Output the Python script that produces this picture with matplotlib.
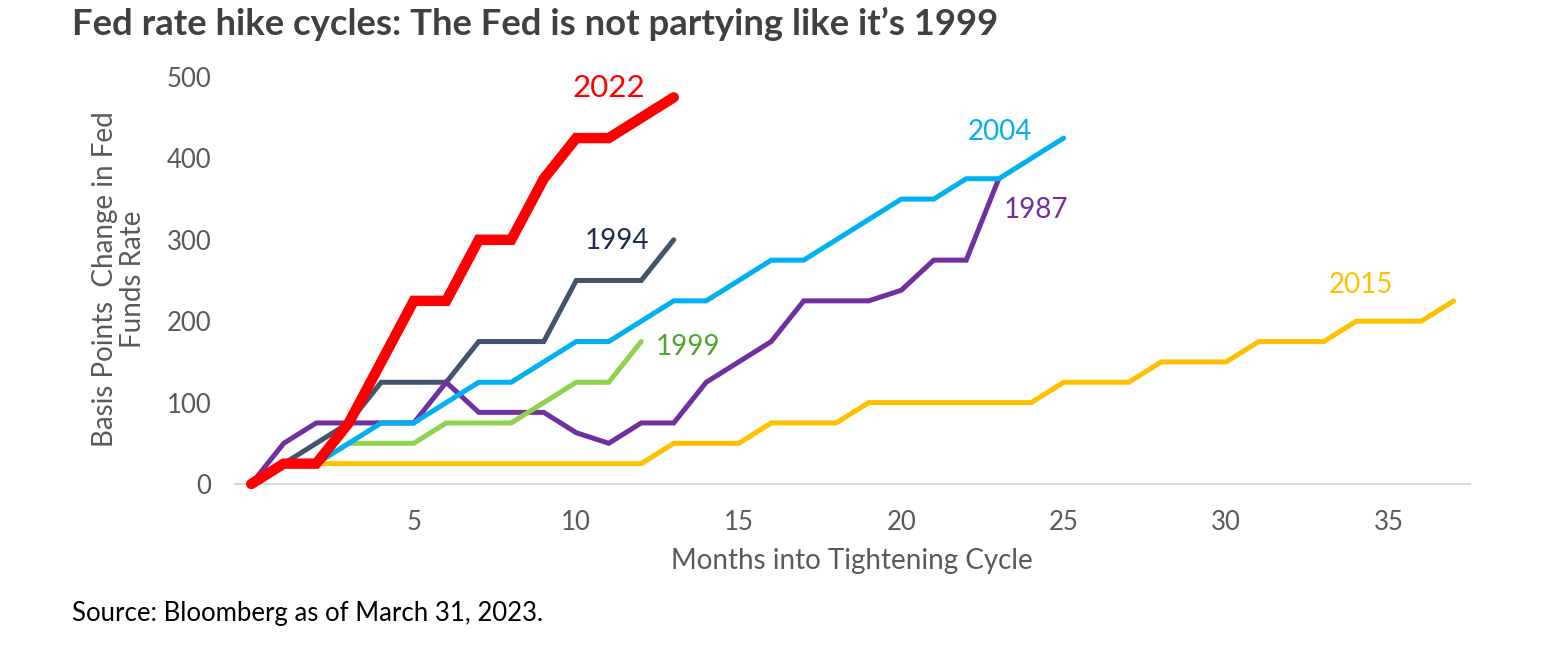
import matplotlib
matplotlib.use("Agg")
import matplotlib.pyplot as plt

months_1987 = list(range(0, 24))
bp_1987 = [0, 50, 75, 75, 75, 75, 125, 88, 88, 88, 63, 50, 75, 75, 125, 150, 175, 225, 225, 225, 238, 275, 275, 375]

months_1994 = list(range(0, 14))
bp_1994 = [0, 25, 50, 75, 125, 125, 125, 175, 175, 175, 250, 250, 250, 300]

months_1999 = list(range(0, 13))
bp_1999 = [0, 25, 25, 50, 50, 50, 75, 75, 75, 100, 125, 125, 175]

months_2004 = list(range(0, 26))
bp_2004 = [0, 25, 25, 50, 75, 75, 100, 125, 125, 150, 175, 175, 200, 225, 225, 250, 275, 275, 300, 325, 350, 350, 375, 375, 400, 425]

months_2015 = list(range(0, 38))
bp_2015 = [0, 25, 25, 25, 25, 25, 25, 25, 25, 25, 25, 25, 25, 50, 50, 50, 75, 75, 75, 100, 100, 100, 100, 100, 100,
           125, 125, 125, 150, 150, 150, 175, 175, 175, 200, 200, 200, 225]

months_2022 = list(range(0, 14))
bp_2022 = [0, 25, 25, 75, 150, 225, 225, 300, 300, 375, 425, 425, 450, 475]

x_ticks = [5, 10, 15, 20, 25, 30, 35]
y_ticks = [0, 100, 200, 300, 400, 500]

title = "Fed rate hike cycles: The Fed is not partying like it\u2019s 1999"
source = "Source: Bloomberg as of March 31, 2023."
x_label = "Months into Tightening Cycle"
y_label = "Basis Points  Change in Fed\nFunds Rate"

plt.rcParams['font.family'] = ['Lato', 'DejaVu Sans']

W, H = 1553, 649
fig = plt.figure(figsize=(W / 100, H / 100), dpi=100)
ax = fig.add_axes([235 / W, 1 - 484 / H, (1470 - 235) / W, (484 - 77) / H])

series = [
    (months_1994, bp_1994, "#44546A", 3.6, 2),
    (months_1987, bp_1987, "#7030A0", 3.6, 3),
    (months_1999, bp_1999, "#92D050", 3.6, 4),
    (months_2004, bp_2004, "#00B0F0", 3.6, 5),
    (months_2015, bp_2015, "#FFC000", 3.6, 1),
    (months_2022, bp_2022, "#FF0000", 7.5, 6),
]
for xs, ys, c, lw, z in series:
    ax.plot(xs, ys, color=c, lw=lw, zorder=z, solid_capstyle='round',
            solid_joinstyle='miter', clip_on=False)

ax.set_xlim(-0.5, 37.5)
ax.set_ylim(0, 500)
ax.set_xticks(x_ticks)
ax.set_yticks(y_ticks)
ax.tick_params(axis='both', length=0, labelsize=18.5, colors="#595959")
ax.tick_params(axis='x', pad=19)
ax.tick_params(axis='y', pad=17)
for s in ['top', 'right', 'left']:
    ax.spines[s].set_visible(False)
ax.spines['bottom'].set_color("#D9D9D9")
ax.spines['bottom'].set_linewidth(1.5)
ax.spines['bottom'].set_zorder(0)

fig.text(852 / W, 1 - 561 / H, x_label, fontsize=20, color="#595959", ha='center', va='center')
fig.text(119 / W, 1 - 279 / H, y_label, fontsize=20, color="#595959", ha='center', va='center',
         rotation=90, multialignment='center', linespacing=1.1)

lab_kw = dict(fontsize=20, ha='center', va='center')
ax.text(11.0, 487, "2022", color="#FF0000", fontsize=22.5, ha='center', va='center')
ax.text(11.25, 298, "1994", color="#1F2D4E", **lab_kw)
ax.text(13.45, 168, "1999", color="#4EA72E", **lab_kw)
ax.text(23.05, 432, "2004", color="#00B0F0", **lab_kw)
ax.text(24.15, 337, "1987", color="#7030A0", **lab_kw)
ax.text(34.15, 244, "2015", color="#FFC000", **lab_kw)

fig.text(72 / W, 1 - 24 / H, title, fontsize=26.3, fontweight='bold', color="#404040",
         ha='left', va='center')
fig.text(72 / W, 1 - 614 / H, source, fontsize=18.5, color="#000000", ha='left', va='center')

fig.savefig("out.png", dpi=100)
